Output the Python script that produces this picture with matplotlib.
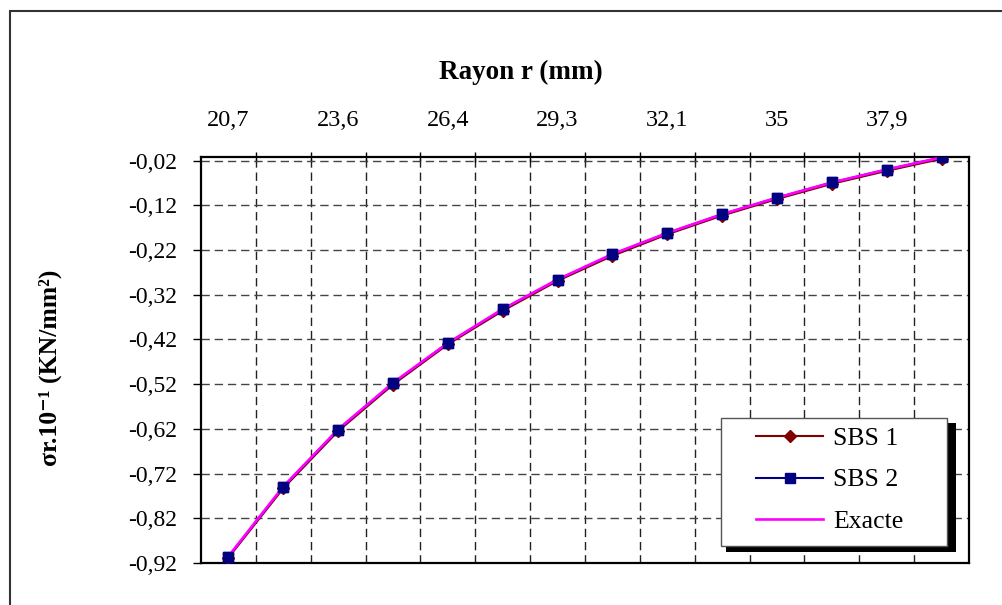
import matplotlib
matplotlib.use("Agg")
import matplotlib.pyplot as plt
import matplotlib.patches as patches
import numpy as np

### DATA
rayon = [20.7, 22.1, 23.6, 25.0, 26.4, 27.9, 29.3, 30.7, 32.1, 33.6, 35.0, 36.4, 37.9, 39.3]
x_ticklabels = ['20,7', '23,6', '26,4', '29,3', '32,1', '35', '37,9']
sbs1 = [-0.908, -0.753, -0.625, -0.521, -0.431, -0.356, -0.289,
        -0.233, -0.185, -0.143, -0.106, -0.072, -0.043, -0.016]
sbs2 = [-0.906, -0.750, -0.622, -0.518, -0.428, -0.353, -0.286,
        -0.230, -0.182, -0.140, -0.103, -0.069, -0.040, -0.013]
exacte = [-0.905, -0.749, -0.621, -0.517, -0.428, -0.352, -0.286,
          -0.229, -0.182, -0.140, -0.103, -0.069, -0.040, -0.013]
y_ticks = [-0.92, -0.82, -0.72, -0.62, -0.52, -0.42, -0.32, -0.22, -0.12, -0.02]
y_ticklabels = ['-0,92', '-0,82', '-0,72', '-0,62', '-0,52', '-0,42', '-0,32',
                '-0,22', '-0,12', '-0,02']

serif = ['Liberation Serif', 'DejaVu Serif']
plt.rcParams['font.family'] = serif

W, H = 1002, 605
fig = plt.figure(figsize=(W / 100, H / 100), dpi=100)
ax = fig.add_axes([201 / W, 1 - 563 / H, 768 / W, 406 / H])

pos = np.arange(len(rayon))

### SERIES
ax.plot(pos, sbs1, color='#800000', lw=1.5, marker='D', ms=6, zorder=3, label='SBS 1')
ax.plot(pos, sbs2, color='#000080', lw=1.5, marker='s', ms=6.5, zorder=3.1, label='SBS 2')
ax.plot(pos, exacte, color='#FF00FF', lw=1.9, zorder=3.2, label='Exacte')
ax.plot(pos, sbs2, ls='none', color='#000080', marker='s', ms=6.5, zorder=3.3)

### AXES
ax.set_xlim(-0.5, len(rayon) - 0.5)
ax.set_ylim(-0.92, -0.012)

ax.xaxis.tick_top()
ax.set_xticks(pos[:-1] + 0.5)
ax.set_xticklabels([])
ax.set_xticks(pos[::2], minor=True)
ax.set_xticklabels(x_ticklabels, minor=True, fontsize=17.5)
ax.tick_params(axis='x', which='major', direction='inout', length=7, width=1, color='black')
ax.tick_params(axis='x', which='minor', length=0, pad=19)

ax.set_yticks(y_ticks)
ax.set_yticklabels(y_ticklabels, fontsize=17)
ax.tick_params(axis='y', direction='out', length=6, width=1, pad=11, right=False)

ax.grid(True, axis='x', which='major', color='#222222', ls=(0, (6, 3.5)), lw=1)
ax.grid(True, axis='y', which='major', color='#444444', ls=(0, (6, 3.5)), lw=1)
ax.set_axisbelow(True)

for s in ax.spines.values():
    s.set_linewidth(1.6)
    s.set_color('black')

### TITLES
fig.text(521 / W, 1 - 72 / H, 'Rayon r (mm)', ha='center', va='center',
         fontsize=19.5, fontweight='bold')
fig.text(50 / W, 1 - 368 / H, 'σr.10⁻¹ (KN/mm²)', ha='center', va='center',
         rotation=90, fontsize=18.5, fontweight='bold')

### LEGEND WITH SHADOW
def px_box(x0, y0, x1, y1):
    # pixel box -> axes fraction (x, y, w, h)
    ax_x0, ax_y1, ax_w, ax_h = 201, 563, 768, 406
    return ((x0 - ax_x0) / ax_w, (ax_y1 - y1) / ax_h,
            (x1 - x0) / ax_w, (y1 - y0) / ax_h)

sx, sy, sw, sh = px_box(726, 423, 956, 552)
ax.add_patch(patches.Rectangle((sx, sy), sw, sh, transform=ax.transAxes,
                               facecolor='black', edgecolor='none', zorder=5))
bx, by, bw, bh = px_box(721, 418, 947, 546)
ax.add_patch(patches.Rectangle((bx, by), bw, bh, transform=ax.transAxes,
                               facecolor='white', edgecolor='#555555', lw=1, zorder=5.1))

leg = ax.legend(loc='center', bbox_to_anchor=((830 - 201) / 768, (563 - 480) / 406),
                frameon=False, fontsize=18.5, handlelength=2.6, handletextpad=0.4,
                labelspacing=0.72, borderpad=0)
leg.set_zorder(6)

### OUTER CHART BORDER
fig.add_artist(patches.Rectangle((10 / W, -0.1), 1.2, 1.1 - 11 / H,
                                 transform=fig.transFigure, fill=False,
                                 edgecolor='#333333', lw=1.5))

fig.savefig('out.png', dpi=100)
